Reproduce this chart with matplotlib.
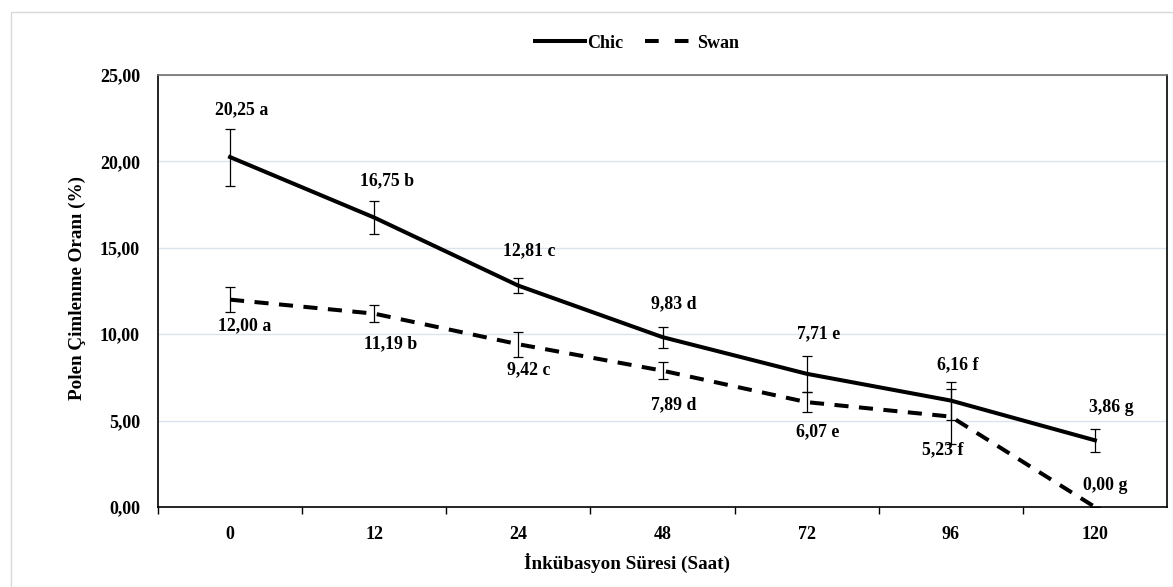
import matplotlib
matplotlib.use("Agg")
import matplotlib.pyplot as plt
from matplotlib.patches import Rectangle
from matplotlib.lines import Line2D

categories = ["0", "12", "24", "48", "72", "96", "120"]
chic = [20.25, 16.75, 12.81, 9.83, 7.71, 6.16, 3.86]
swan = [12.00, 11.19, 9.42, 7.89, 6.07, 5.23, 0.00]
chic_err = [1.65, 0.97, 0.43, 0.60, 1.03, 1.10, 0.65]
swan_err = [0.72, 0.50, 0.72, 0.50, 0.58, 1.58, 0.0]
chic_letters = ["a", "b", "c", "d", "e", "f", "g"]
swan_letters = ["a", "b", "c", "d", "e", "f", "g"]
yticks = [0, 5, 10, 15, 20, 25]

# label offsets in pixels (layout only)
chic_off = [(12, 47), (13, 37), (11, 35), (11, 33), (12, 40), (7, 36), (16, 33)]
swan_off = [(15, -26), (16, -30), (10, -26), (11, -34), (11, -30), (-8, -33), (10, 21)]

plt.rcParams['font.family'] = ['Liberation Serif', 'DejaVu Serif']
plt.rcParams['font.weight'] = 'bold'

fig = plt.figure(figsize=(11.73, 5.87), dpi=100)
fig.patches.append(Rectangle((11/1173, 0), 1 - 11/1173, 1 - 12/587, transform=fig.transFigure,
                             fill=False, edgecolor='#d9d9d9', linewidth=1.0))
ax = fig.add_axes([158/1173, 1 - 507/587, (1167-158)/1173, (507-75)/587])

x = list(range(len(categories)))
lw = 2.9
ax.errorbar(x, chic, yerr=chic_err, color='black', linewidth=lw, ecolor='black',
            elinewidth=0.9, capsize=3.5, capthick=0.9, zorder=3)
ax.errorbar(x, swan, yerr=swan_err,
            color='black', linewidth=lw, linestyle=(0, (3.5, 2.6)), ecolor='black',
            elinewidth=0.9, capsize=3.5, capthick=0.9, zorder=3)

fs = 12.8
for i, (v, l) in enumerate(zip(chic, chic_letters)):
    s = f"{v:.2f}".replace('.', ',') + " " + l
    ax.annotate(s, (i, v), xytext=chic_off[i], textcoords='offset pixels',
                ha='center', va='center', fontsize=fs, fontweight='bold')
for i, (v, l) in enumerate(zip(swan, swan_letters)):
    s = f"{v:.2f}".replace('.', ',') + " " + l
    ax.annotate(s, (i, v), xytext=swan_off[i], textcoords='offset pixels',
                ha='center', va='center', fontsize=fs, fontweight='bold')

ax.set_xlim(-0.5, len(categories) - 0.5)
ax.set_ylim(0, 25)
ax.set_yticks(yticks)
ax.set_yticklabels([f"{t:.2f}".replace('.', ',') for t in yticks], fontsize=13, fontweight='bold')
ax.set_xticks(x)
ax.set_xticklabels(categories, fontsize=13, fontweight='bold')
ax.tick_params(axis='x', length=0, pad=14)
ax.set_xticks([i + 0.5 for i in x[:-1]] + [-0.5], minor=True)
ax.tick_params(axis='x', which='minor', length=5, width=1, color='black')
ax.tick_params(axis='y', length=0, pad=13)
ax.grid(axis='y', color='#dde3ee', linewidth=1)
ax.set_axisbelow(True)
for side in ['left', 'bottom', 'right']:
    ax.spines[side].set_color('black')
    ax.spines[side].set_linewidth(1.2)
ax.spines['top'].set_color('#707070')
ax.spines['top'].set_linewidth(1.2)

ax.set_ylabel("Polen Çimlenme Oranı (%)", fontsize=13.8, fontweight='bold')
ax.yaxis.set_label_coords(-(158 - 86) / 1009, (507 - 288) / 432)
ax.set_xlabel("İnkübasyon Süresi (Saat)", fontsize=13.8, fontweight='bold')
ax.xaxis.set_label_coords((627 - 158) / 1009, -(553 - 507) / 432)

handles = [Line2D([0], [0], color='black', linewidth=lw),
           Line2D([0], [0], color='black', linewidth=lw, linestyle=(0, (3.4, 4.0)))]
fig.legend(handles, ["Chic", "Swan"], loc='center', bbox_to_anchor=(637/1173, 1 - 43/587),
           ncol=2, frameon=False, handlelength=2.8, columnspacing=1.2,
           handletextpad=0.1, prop={'weight': 'bold', 'size': 13})

fig.savefig("out.png", dpi=100)
